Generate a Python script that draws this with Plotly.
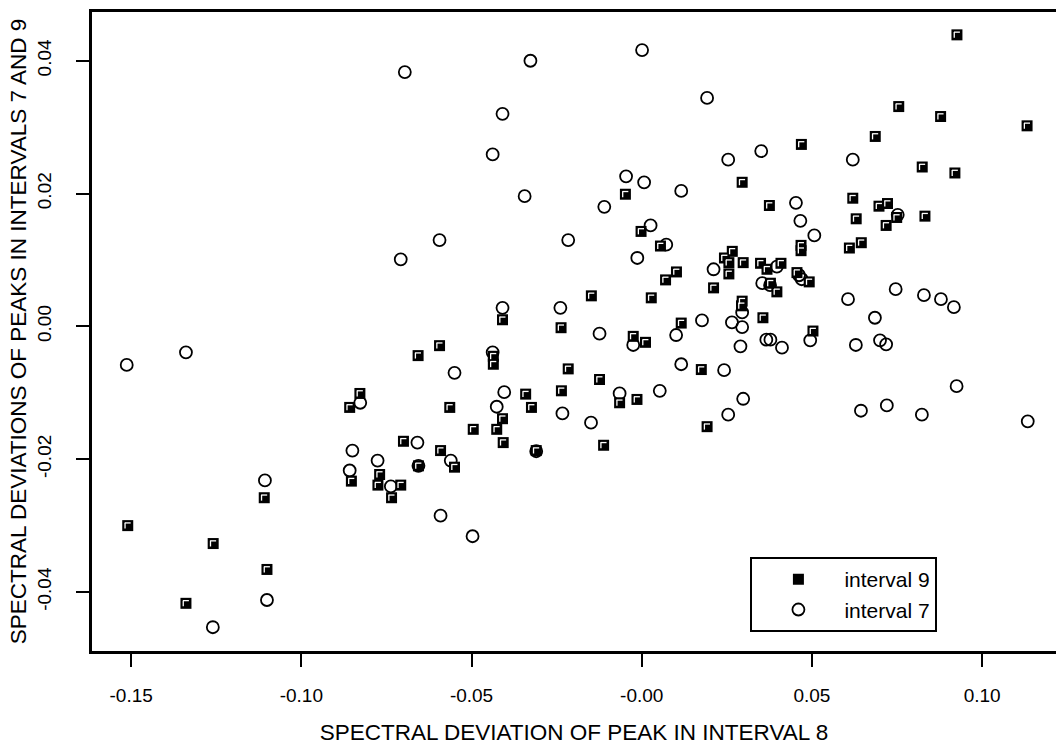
import plotly.graph_objects as go

# interval 9 (filled squares)
x_int9 = [0.0469, 0.0295, -0.0048, 0.0375, -0.0002, 0.0926, 0.0755, 0.0878, 0.1132, 0.0686,
          0.0824, 0.0920, 0.0620, 0.0697, 0.0722, 0.0749, 0.0832, 0.0630, 0.0718, 0.0610,
          0.0645, 0.0492, 0.0503, 0.0055, 0.0266, 0.0243, 0.0256, 0.0298, 0.0349, 0.0368,
          0.0409, 0.0468, 0.0468, 0.0456, 0.0256, 0.0102, 0.0070, 0.0211, 0.0378, 0.0397,
          -0.0148, 0.0028, 0.0295, 0.0293, 0.0356, 0.0116, -0.0025, 0.0011, -0.0216, 0.0175,
          -0.0124, -0.0065, -0.0014, 0.0192, -0.0409, -0.0237, -0.0594, -0.0657, -0.0436, -0.0436,
          -0.0828, -0.0858, -0.0564, -0.0341, -0.0324, -0.0236, -0.0409, -0.0495, -0.0426, -0.0700,
          -0.0407, -0.0310, -0.0853, -0.0770, -0.0775, -0.0708, -0.0735, -0.0656, -0.0591, -0.0550,
          -0.1109, -0.1510, -0.1259, -0.1101, -0.1339, -0.0112]
y_int9 = [0.0274, 0.0217, 0.0199, 0.0182, 0.0143, 0.0439, 0.0331, 0.0316, 0.0302, 0.0286,
          0.0240, 0.0231, 0.0193, 0.0181, 0.0185, 0.0164, 0.0166, 0.0162, 0.0152, 0.0118,
          0.0126, 0.0067, -0.0007, 0.0121, 0.0113, 0.0103, 0.0096, 0.0096, 0.0095, 0.0086,
          0.0095, 0.0122, 0.0114, 0.0081, 0.0079, 0.0082, 0.0070, 0.0058, 0.0065, 0.0052,
          0.0046, 0.0043, 0.0038, 0.0031, 0.0013, 0.0005, -0.0015, -0.0024, -0.0064, -0.0065,
          -0.0080, -0.0115, -0.0110, -0.0151, 0.0010, -0.0002, -0.0029, -0.0044, -0.0045, -0.0057,
          -0.0101, -0.0122, -0.0122, -0.0102, -0.0122, -0.0097, -0.0139, -0.0155, -0.0155, -0.0173,
          -0.0175, -0.0187, -0.0233, -0.0223, -0.0239, -0.0239, -0.0258, -0.0210, -0.0187, -0.0212,
          -0.0258, -0.0300, -0.0327, -0.0366, -0.0417, -0.0179]

# interval 7 (open ellipses)
x_int7 = [-0.0696, -0.0327, -0.0409, -0.0438, -0.0344, 0.0001, 0.0192, 0.0351, 0.0254, -0.0046,
          0.0007, 0.0116, -0.0110, 0.0453, 0.0466, 0.0026, 0.0620, 0.0752, 0.0507, 0.0606,
          0.0746, 0.0829, 0.0879, 0.0917, 0.0685, 0.0495, 0.0629, 0.0700, 0.0718, 0.0925,
          0.0644, 0.0720, 0.0823, 0.1134, -0.0216, 0.0072, -0.0013, 0.0397, 0.0462, 0.0470,
          0.0211, 0.0354, 0.0377, 0.0295, 0.0177, 0.0265, 0.0295, 0.0101, -0.0124, -0.0025,
          0.0366, 0.0378, 0.0412, 0.0290, 0.0116, 0.0242, -0.0065, 0.0053, 0.0298, 0.0254,
          -0.0149, -0.0594, -0.0708, -0.0409, -0.0239, -0.0438, -0.0550, -0.0827, -0.0404, -0.0426,
          -0.0233, -0.0659, -0.0310, -0.0850, -0.0776, -0.0858, -0.0737, -0.0656, -0.0561, -0.0591,
          -0.0497, -0.1107, -0.1101, -0.1260, -0.1513, -0.1339]
y_int7 = [0.0383, 0.0400, 0.0320, 0.0259, 0.0196, 0.0416, 0.0344, 0.0264, 0.0251, 0.0226,
          0.0217, 0.0204, 0.0180, 0.0186, 0.0159, 0.0152, 0.0251, 0.0168, 0.0137, 0.0041,
          0.0056, 0.0047, 0.0041, 0.0029, 0.0013, -0.0021, -0.0028, -0.0021, -0.0027, -0.0090,
          -0.0127, -0.0119, -0.0133, -0.0143, 0.0130, 0.0123, 0.0103, 0.0090, 0.0077, 0.0071,
          0.0086, 0.0065, 0.0062, 0.0021, 0.0009, 0.0006, -0.0001, -0.0013, -0.0011, -0.0028,
          -0.0020, -0.0020, -0.0032, -0.0030, -0.0057, -0.0066, -0.0101, -0.0097, -0.0109, -0.0133,
          -0.0145, 0.0130, 0.0101, 0.0028, 0.0028, -0.0039, -0.0070, -0.0115, -0.0099, -0.0121,
          -0.0131, -0.0175, -0.0188, -0.0187, -0.0202, -0.0217, -0.0241, -0.0210, -0.0202, -0.0285,
          -0.0316, -0.0232, -0.0412, -0.0453, -0.0058, -0.0039]

x_tickvals = [-0.15, -0.10, -0.05, 0.0, 0.05, 0.10]
x_ticktext = ["-0.15", "-0.10", "-0.05", "-0.00", "0.05", "0.10"]
y_tickvals = [-0.04, -0.02, 0.0, 0.02, 0.04]
y_ticktext = ["-0.04", "-0.02", "0.00", "0.02", "0.04"]

x_title = "SPECTRAL DEVIATION OF PEAK IN INTERVAL 8"
y_title = "SPECTRAL DEVIATIONS OF PEAKS IN INTERVALS 7 AND 9"

FONT = "Liberation Sans, Arial, Helvetica, sans-serif"

fig = go.Figure()

fig.add_trace(go.Scatter(
    x=x_int7, y=y_int7, mode="markers", name="interval 7", legendrank=2,
    marker=dict(symbol="circle-open", size=12, color="black",
                line=dict(color="black", width=1.8)),
))
fig.add_trace(go.Scatter(
    x=x_int9, y=y_int9, mode="markers", name="interval 9", legendrank=1,
    marker=dict(symbol="square", size=11, color="black", line=dict(width=0)),
))
# white L-shaped highlight inside each square
fig.add_trace(go.Scatter(
    x=x_int9, y=y_int9, mode="markers", showlegend=False, hoverinfo="skip",
    marker=dict(symbol="line-ew", size=4.2, angle=180, standoff=2.7, color="white",
                line=dict(color="white", width=1.3)),
))
fig.add_trace(go.Scatter(
    x=x_int9, y=y_int9, mode="markers", showlegend=False, hoverinfo="skip",
    marker=dict(symbol="line-ew", size=4.2, angle=90, standoff=2.7, color="white",
                line=dict(color="white", width=1.3)),
))

fig.update_layout(
    width=1056, height=746,
    margin=dict(l=92, r=0, t=12, b=95, autoexpand=False),
    plot_bgcolor="white", paper_bgcolor="white",
    font=dict(family=FONT, color="black"),
    showlegend=True,
    legend=dict(x=0.683, y=0.147, xanchor="left", yanchor="top",
                bordercolor="black", borderwidth=2, bgcolor="white",
                font=dict(size=21, family=FONT, color="black"),
                itemwidth=82, tracegroupgap=0),
)
fig.update_xaxes(
    range=[-0.1615, 0.1217], showgrid=False, zeroline=False, automargin=False,
    showline=True, linecolor="black", linewidth=3, mirror=True,
    ticks="outside", ticklen=13, tickwidth=2, tickcolor="black",
    tickvals=x_tickvals, ticktext=x_ticktext,
    tickfont=dict(size=19, family=FONT, color="black"),
    ticklabelstandoff=12,
    title=dict(text=x_title, font=dict(size=22.5, family=FONT, color="black"), standoff=20),
)
fig.update_yaxes(
    range=[-0.04888, 0.04734], showgrid=False, zeroline=False, automargin=False,
    showline=True, linecolor="black", linewidth=3, mirror=False,
    ticks="outside", ticklen=13, tickwidth=2, tickcolor="black",
    tickvals=y_tickvals, ticktext=y_ticktext, tickangle=-90,
    tickfont=dict(size=19, family=FONT, color="black"),
    ticklabelstandoff=17,
    title=dict(text=y_title, font=dict(size=22.5, family=FONT, color="black"), standoff=2),
)

fig.write_html(
    "out.html",
    config={"displayModeBar": False},
    post_script="document.body.style.margin='0';document.body.style.padding='0';"
                "document.documentElement.style.overflow='hidden';",
)
